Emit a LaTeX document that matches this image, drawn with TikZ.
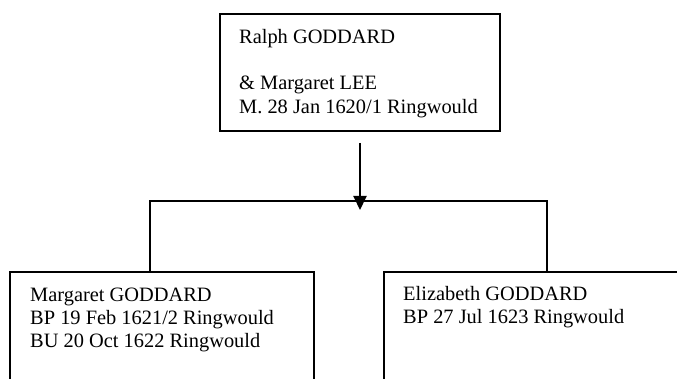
\documentclass[tikz,border=0pt]{standalone}
\usepackage{fontspec}
\setmainfont{Liberation Serif}
\usepackage{tikz}
\usetikzlibrary{arrows.meta}

\begin{document}
\begin{tikzpicture}[x=1pt,y=-1pt,>={Triangle[length=14pt,width=13pt]},
  box/.style={draw,line width=2pt,rectangle,anchor=north west,inner sep=0pt},
  txt/.style={anchor=north west,inner sep=0pt,align=left,font=\fontsize{20.4}{23.3}\selectfont},
  line/.style={line width=2pt}]
\path[use as bounding box] (0,0) rectangle (677,379);
\clip (0,0) rectangle (677,379);
\node[box,minimum width=280pt,minimum height=117pt] (parent) at (219,13) {};
\node[box,minimum width=304pt,minimum height=140pt] (kid1) at (9,271) {};
\node[box,minimum width=304pt,minimum height=140pt] (kid2) at (383,271) {};
\node[txt] (ptext) at ([shift={(20pt,-13.7pt)}]parent.north west)
  {\strut Ralph GODDARD\\ \\ \& Margaret LEE\\ M. 28 Jan 1620/1 Ringwould};
\node[txt] (k1text) at ([shift={(21pt,-13.7pt)}]kid1.north west)
  {\strut Margaret GODDARD\\ BP 19 Feb 1621/2 Ringwould\\ BU 20 Oct 1622 Ringwould};
\node[txt] (k2text) at ([shift={(20pt,-13pt)}]kid2.north west)
  {\strut Elizabeth GODDARD\\ BP 27 Jul 1623 Ringwould};
\coordinate (lbar) at (150,201);
\coordinate (rbar) at (547,201);
\coordinate (fork) at (360,201);
\draw[line] (kid1.north -| lbar) -- (lbar) -- (rbar) -- (kid2.north -| rbar);
\draw[line,->] ([yshift=-11pt]parent.south) -- ([yshift=-9pt]fork);
\end{tikzpicture}
\end{document}
